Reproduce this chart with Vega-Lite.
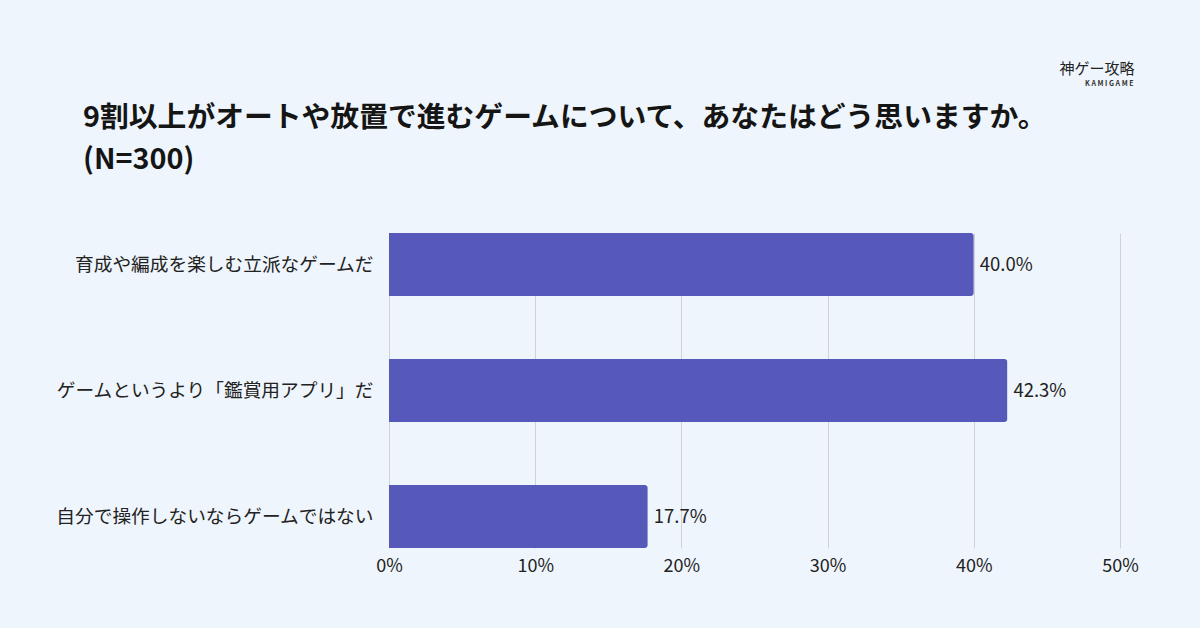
{
  "$schema": "https://vega.github.io/schema/vega-lite/v6.json",
  "width": 731,
  "height": 315,
  "autosize": {"type": "none"},
  "padding": {"left": 389, "top": 233, "right": 80, "bottom": 80},
  "background": "#eff5fc",
  "title": {
    "text": ["9割以上がオートや放置で進むゲームについて、あなたはどう思いますか。", "(N=300)"],
    "anchor": "start",
    "frame": "group",
    "dx": -306,
    "dy": 172,
    "offset": 58,
    "fontSize": 28.8,
    "lineHeight": 42,
    "font": "Noto Sans CJK JP",
    "fontWeight": "bold",
    "color": "#151515"
  },
  "config": {"view": {"stroke": null}, "font": "Noto Sans CJK JP"},
  "data": {
    "values": [
      {"item": "育成や編成を楽しむ立派なゲームだ", "pct": 40.0, "label": "40.0%"},
      {"item": "ゲームというより「鑑賞用アプリ」だ", "pct": 42.3, "label": "42.3%"},
      {"item": "自分で操作しないならゲームではない", "pct": 17.7, "label": "17.7%"}
    ]
  },
  "resolve": {"axis": {"x": "independent", "y": "independent"}},
  "layer": [
    {
      "mark": {"type": "bar", "color": "#5659b9", "cornerRadiusEnd": 3},
      "encoding": {
        "y": {
          "field": "item", "type": "nominal", "sort": null,
          "scale": {"paddingInner": 0.5, "paddingOuter": 0},
          "axis": {"title": null, "ticks": false, "domain": false, "labelPadding": 16, "labelFontSize": 18.7, "labelColor": "#222", "labelLimit": 400, "labelFont": "Noto Sans CJK JP"}
        },
        "x": {
          "field": "pct", "type": "quantitative",
          "scale": {"domain": [0, 50], "nice": false},
          "axis": {"title": null, "values": [0, 10, 20, 30, 40, 50], "labelExpr": "datum.value + '%'", "labelFlush": false, "ticks": false, "domain": false, "grid": true, "gridColor": "#cfd3d9", "gridWidth": 1, "labelFontSize": 18, "labelColor": "#222", "labelPadding": 9, "labelFont": "Noto Sans CJK JP"}
        }
      }
    },
    {
      "mark": {"type": "text", "align": "left", "dx": 6, "fontSize": 18.5, "color": "#222", "font": "Noto Sans CJK JP"},
      "encoding": {
        "y": {
          "field": "item", "type": "nominal", "sort": null,
          "axis": {"orient": "right", "title": "K   A   M   I   G   A   M   E", "titleAngle": 0, "titleFontSize": 7, "titleFontWeight": "bold", "titleColor": "#333", "titleX": 13, "titleY": -150, "titleAlign": "right", "titleBaseline": "middle", "labels": false, "ticks": false, "domain": false, "grid": false}
        },
        "x": {
          "field": "pct", "type": "quantitative",
          "axis": {"orient": "top", "title": "神ゲー攻略", "titleFontSize": 15, "titleFontWeight": "normal", "titleColor": "#222", "titleAnchor": "end", "titleAlign": "right", "titleX": 745, "titleY": -165, "titleBaseline": "middle", "labels": false, "ticks": false, "domain": false, "grid": false}
        },
        "text": {"field": "label"}
      }
    }
  ]
}
